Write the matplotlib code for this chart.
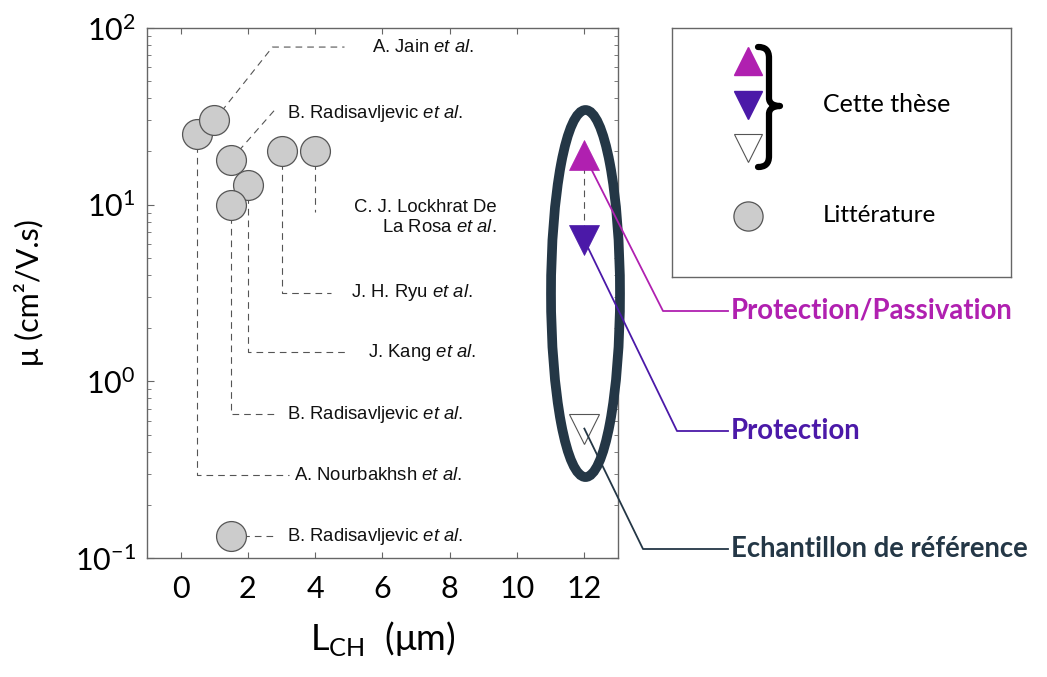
import numpy as np
import matplotlib
matplotlib.use('Agg')
import matplotlib.pyplot as plt
from matplotlib.patches import Ellipse, PathPatch
from matplotlib.path import Path
from matplotlib.lines import Line2D

plt.rcParams['font.family'] = ['Lato', 'DejaVu Sans']
plt.rcParams['mathtext.fontset'] = 'custom'
plt.rcParams['mathtext.rm'] = 'Liberation Sans'
plt.rcParams['mathtext.it'] = 'Liberation Sans:italic'

# données littérature
lit_L = [0.5, 1.0, 1.5, 2.0, 1.5, 3.0, 4.0, 1.5]
lit_mu = [25, 30, 18, 13, 10, 20, 20, 0.133]
lit_refs = ['A. Nourbakhsh', 'A. Jain', 'B. Radisavljevic', 'J. Kang',
            'B. Radisavljevic', 'J. H. Ryu', 'C. J. Lockhrat De\nLa Rosa',
            'B. Radisavljevic']

# données de cette thèse
these_L = [12, 12, 12]
these_mu = [19, 6.3, 0.54]
these_labels = ['Protection/Passivation', 'Protection', 'Echantillon de référence']

C_MAG = '#b020b0'
C_PUR = '#4b19a8'
C_DARK = '#243746'
C_DASH = '#555555'
C_GRAY = '#cccccc'

W, H = 1047, 677
fig = plt.figure(figsize=(W / 100, H / 100), dpi=100)
ax = fig.add_axes([147 / W, 1 - 558 / H, 471 / W, 530 / H])
ax.set_yscale('log')
ax.set_xlim(-1, 13)
ax.set_ylim(0.1, 100)

# lignes de rappel (chemin après le point, position du texte, alignement)
leaders = [
    ([(0.5, 0.294), (3.23, 0.294)], (3.38, 0.294), 'left'),
    ([(2.73, 78), (4.87, 78)], (5.7, 78), 'left'),
    ([(2.85, 35.3)], (3.15, 33), 'left'),
    ([(2.0, 1.46), (4.93, 1.46)], (5.58, 1.46), 'left'),
    ([(1.5, 0.65), (2.85, 0.65)], (3.15, 0.65), 'left'),
    ([(3.0, 3.18), (4.48, 3.18)], (5.07, 3.18), 'left'),
    ([(4.0, 9.1)], (9.38, 8.45), 'right'),
    ([(2.85, 0.133)], (3.15, 0.133), 'left'),
]
for i, (path, tpos, ha) in enumerate(leaders):
    xs = [lit_L[i]] + [p[0] for p in path]
    ys = [lit_mu[i]] + [p[1] for p in path]
    ax.plot(xs, ys, color=C_DASH, lw=0.8, dashes=(6, 4.5), zorder=2)
    ax.text(tpos[0], tpos[1], lit_refs[i] + r' $\mathit{et\ al.}$', ha=ha, va='center',
            multialignment='right', fontsize=13.3, family='Liberation Sans',
            linespacing=1.25, color='#111111')

ax.plot(lit_L, lit_mu, 'o', ms=21.5, mfc=C_GRAY, mec='#555555', mew=0.9, ls='none', zorder=5)

# cette thèse
ax.plot(these_L[:2], these_mu[:2], color=C_DASH, lw=0.8, dashes=(6, 4.5), zorder=2)
ax.plot(these_L[0], these_mu[0], '^', ms=21, mfc=C_MAG, mec=C_MAG, mew=0.5, zorder=6)
ax.plot(these_L[1], these_mu[1], 'v', ms=21, mfc=C_PUR, mec=C_PUR, mew=0.5, zorder=6)
ax.plot(these_L[2], these_mu[2], 'v', ms=21, mfc='white', mec='#555555', mew=0.8, zorder=6)

ax.add_patch(Ellipse((0.931, 0.499), 0.1465, 0.6925, transform=ax.transAxes, fill=False,
                     ec=C_DARK, lw=7, clip_on=False, zorder=4))

# axes
ax.set_xticks([0, 2, 4, 6, 8, 10, 12])
ax.set_yticks([0.1, 1, 10, 100])
ax.tick_params(axis='both', which='both', direction='in', top=True, right=True,
               labelsize=22, color='#666666')
ax.tick_params(axis='x', which='major', length=4, width=0.8, pad=12)
ax.tick_params(axis='y', which='major', length=5, width=0.8, pad=8)
ax.tick_params(axis='y', which='minor', length=3, width=0.6)
ax.tick_params(axis='x', which='minor', bottom=False, top=False)
for s in ax.spines.values():
    s.set_color('#666666')
    s.set_linewidth(1.0)
ax.set_xlabel(r'L$_{\mathdefault{CH}}$  (μm)', fontsize=26, labelpad=12)
ax.set_ylabel('μ (cm²/V.s)', fontsize=22, labelpad=22)

# lignes vers les étiquettes à droite
colors = [C_MAG, C_PUR, C_DARK]
knees = [(663, 311), (677, 431), (643, 549)]
for k in range(3):
    px, py = ax.transData.transform((these_L[k], these_mu[k]))
    kx, ky = knees[k]
    xs = [px / W, kx / W, 728 / W]
    ys = [py / H, 1 - ky / H, 1 - ky / H]
    fig.add_artist(Line2D(xs, ys, transform=fig.transFigure, color=colors[k], lw=1.3, zorder=3))
    fig.text(731 / W, 1 - ky / H, these_labels[k], color=colors[k], fontsize=19.8,
             fontweight='bold', ha='left', va='center')

# légende
lg = fig.add_axes([672 / W, 1 - 277 / H, 339 / W, 249 / H])
lg.set_xlim(0, 339)
lg.set_ylim(249, 0)
lg.set_xticks([])
lg.set_yticks([])
for s in lg.spines.values():
    s.set_color('#666666')
    s.set_linewidth(1.0)
lg.plot(76, 33, '^', ms=20.5, mfc=C_MAG, mec=C_MAG)
lg.plot(76, 77, 'v', ms=20.5, mfc=C_PUR, mec=C_PUR)
lg.plot(76, 120, 'v', ms=20.5, mfc='white', mec='#555555', mew=0.8)
lg.plot(76, 188, 'o', ms=21, mfc=C_GRAY, mec='#555555', mew=0.9)

# accolade
brace_v = [(86, 19), (93, 19), (97, 22), (97, 30),
           (97, 70),
           (97, 75), (101, 78), (108, 78),
           (101, 78), (97, 81), (97, 86),
           (97, 128),
           (97, 136), (93, 139), (86, 139)]
brace_c = [Path.MOVETO, Path.CURVE4, Path.CURVE4, Path.CURVE4,
           Path.LINETO,
           Path.CURVE4, Path.CURVE4, Path.CURVE4,
           Path.CURVE4, Path.CURVE4, Path.CURVE4,
           Path.LINETO,
           Path.CURVE4, Path.CURVE4, Path.CURVE4]
lg.add_patch(PathPatch(Path(brace_v, brace_c), fill=False, ec='black', lw=4.5,
                       capstyle='round', joinstyle='round'))

lg.text(151, 76, 'Cette thèse', fontsize=18, ha='left', va='center')
lg.text(151, 188, 'Littérature', fontsize=17.5, ha='left', va='center')

fig.savefig('out.png', dpi=100)
